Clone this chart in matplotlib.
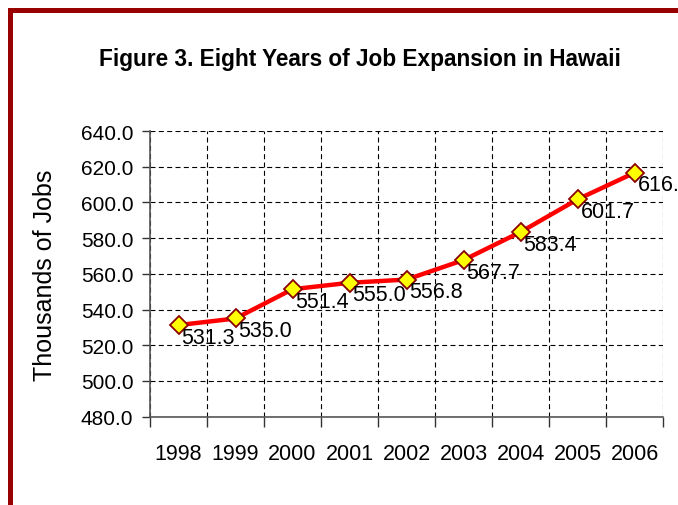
import matplotlib
matplotlib.use("Agg")
import matplotlib.pyplot as plt
from matplotlib.patches import Rectangle
from matplotlib.ticker import FixedLocator, NullFormatter, FixedFormatter
import numpy as np

years = ["1998", "1999", "2000", "2001", "2002", "2003", "2004", "2005", "2006"]
jobs = [531.3, 535.0, 551.4, 555.0, 556.8, 567.7, 583.4, 601.7, 616.6]
title = "Figure 3. Eight Years of Job Expansion in Hawaii"
ylabel = "Thousands of Jobs"
yticks = [480, 500, 520, 540, 560, 580, 600, 620, 640]

W, H = 678, 506
fig = plt.figure(figsize=(W / 100, H / 100), dpi=100)
fig.patch.set_facecolor("white")

regular = ["Liberation Sans", "DejaVu Sans"]

# border frame (top and left visible)
fig.patches.append(Rectangle((9.5 / W, -0.2), 1.2, 1 - 10.5 / H + 0.2,
                             transform=fig.transFigure, fill=False,
                             edgecolor="#990000", linewidth=3.6, zorder=0))

ax = fig.add_axes([150 / W, 1 - 417.7 / H, (663 - 150) / W, (417.7 - 132) / H])

n = len(years)
x = np.arange(n) + 0.5
ax.plot(x, jobs, color="#FF0000", linewidth=3.2, marker="D", markersize=9,
        markerfacecolor="#FFFF00", markeredgecolor="#8B0000", markeredgewidth=1.3,
        zorder=5, clip_on=False)

for xi, v in zip(x, jobs):
    ax.annotate(f"{v:.1f}", (xi, v), xytext=(3, -12), textcoords="offset pixels",
                ha="left", va="center", fontsize=15.5, family=regular,
                color="black", zorder=6, annotation_clip=False)

ax.set_xlim(0, n)
ax.set_ylim(480, 640)

ax.xaxis.set_major_locator(FixedLocator(np.arange(n + 1)))
ax.xaxis.set_major_formatter(NullFormatter())
ax.xaxis.set_minor_locator(FixedLocator(x))
ax.xaxis.set_minor_formatter(FixedFormatter(years))
ax.tick_params(axis="x", which="major", length=7, width=1, color="#333333", direction="out")
ax.tick_params(axis="x", which="minor", length=0, pad=19)
for lab in ax.xaxis.get_minorticklabels():
    lab.set_fontsize(15.5)
    lab.set_family(regular)

ax.set_yticks(yticks)
ax.set_yticklabels([f"{v:.1f}" for v in yticks], fontsize=15, family=regular)
ax.tick_params(axis="y", length=6, width=1, color="#333333", pad=6)

ax.grid(True, which="major", color="black", linestyle=(0, (4.5, 3)), linewidth=0.8)
ax.set_axisbelow(True)

for s in ["top", "right"]:
    ax.spines[s].set_visible(False)
for s in ["left", "bottom"]:
    ax.spines[s].set_color("#555555")
    ax.spines[s].set_linewidth(1.2)
    ax.spines[s].set_zorder(3)

ax.set_ylabel(ylabel, fontsize=18, family=regular)
ax.yaxis.set_label_coords((57 - 150) / (663 - 150), 0.5)

fig.text(360 / W, 1 - 66 / H, title, ha="center", va="baseline",
         fontsize=16.3, fontweight="bold", family=regular)

fig.savefig("out.png", dpi=100, facecolor="white")
